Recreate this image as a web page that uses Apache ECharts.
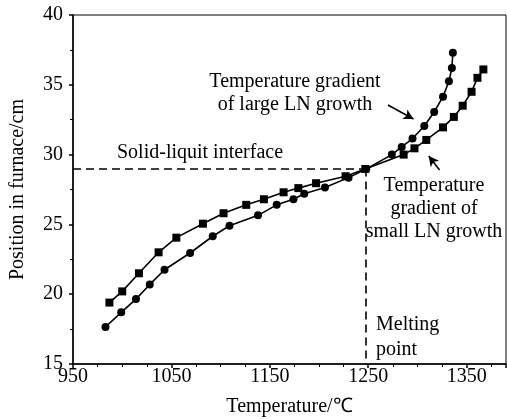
<!DOCTYPE html>
<html>
<head>
<meta charset="utf-8">
<script src="https://cdn.jsdelivr.net/npm/echarts@6/dist/echarts.min.js"></script>
<style>
  html, body { margin: 0; padding: 0; background: #fff; }
  #chart { width: 507px; height: 419px; }
</style>
</head>
<body>
<div id="chart"></div>
<script>
// temperature (°C) / position (cm)
var smallTemp = [987, 1000, 1017, 1037, 1055, 1082, 1103, 1126, 1144, 1164, 1179, 1197, 1227, 1247,
  1286, 1297, 1309, 1326, 1337, 1346, 1355, 1361, 1367];
var smallPos = [19.4, 20.2, 21.5, 23.0, 24.05, 25.05, 25.8, 26.4, 26.8, 27.3, 27.6, 27.95, 28.45, 28.97,
  30.0, 30.45, 31.05, 31.95, 32.7, 33.5, 34.5, 35.5, 36.1];

var largeTemp = [983, 999, 1014, 1028, 1043, 1069, 1092, 1109, 1138, 1157, 1174, 1185, 1206, 1230, 1248,
  1274, 1284, 1295, 1307, 1317, 1326, 1332, 1335, 1336];
var largePos = [17.65, 18.7, 19.65, 20.7, 21.75, 22.95, 24.15, 24.9, 25.65, 26.4, 26.8, 27.2, 27.65, 28.35, 28.97,
  30.0, 30.55, 31.15, 32.05, 33.05, 34.15, 35.25, 36.2, 37.3];

var xTicks = [950, 1050, 1150, 1250, 1350];
var yTicks = [15, 20, 25, 30, 35, 40];

var interfacePos = 29;
var meltingTemp = 1247;

// arrows [from, to] in data units
var arrowLarge = [[1270, 33.55], [1296, 32.55]];
var arrowSmall = [[1322.5, 28.9], [1311.5, 29.9]];

function pairs(xs, ys) {
  return xs.map(function (x, i) { return [x, ys[i]]; });
}

var font = 'Liberation Serif';
var txtFont = '20px "Liberation Serif"';
var chart = echarts.init(document.getElementById('chart'));

var option = {
  animation: false,
  grid: {
    left: 73, right: 1, top: 15, bottom: 55,
    outerBoundsMode: 'none',
    show: true, borderColor: '#000', borderWidth: 1
  },
  xAxis: {
    type: 'value',
    min: xTicks[0],
    max: 1390,
    interval: 100,
    name: 'Temperature/℃',
    nameLocation: 'middle',
    nameGap: 33,
    nameTextStyle: { fontFamily: font, fontSize: 20, color: '#000' },
    axisLine: { lineStyle: { color: '#000', width: 1.5 } },
    axisTick: { length: 4, lineStyle: { color: '#000', width: 1.5 } },
    minorTick: { show: true, splitNumber: 4, length: 3, lineStyle: { color: '#000' } },
    splitLine: { show: false },
    axisLabel: {
      fontFamily: font, fontSize: 20, color: '#000', margin: 3,
      showMaxLabel: false,
      formatter: function (v) { return xTicks.indexOf(v) >= 0 ? String(v) : ''; }
    }
  },
  yAxis: {
    type: 'value',
    min: yTicks[0],
    max: yTicks[yTicks.length - 1],
    interval: 5,
    name: 'Position in furnace/cm',
    nameLocation: 'middle',
    nameGap: 45,
    nameTextStyle: { fontFamily: font, fontSize: 20, color: '#000' },
    axisLine: { lineStyle: { color: '#000', width: 1.5 } },
    axisTick: { length: 4, lineStyle: { color: '#000', width: 1.5 } },
    minorTick: { show: true, splitNumber: 2, length: 3, lineStyle: { color: '#000' } },
    splitLine: { show: false },
    axisLabel: { fontFamily: font, fontSize: 20, color: '#000', margin: 10 }
  },
  series: [
    {
      name: 'small LN growth',
      type: 'line',
      data: pairs(smallTemp, smallPos),
      symbol: 'rect',
      symbolSize: 8,
      itemStyle: { color: '#000' },
      lineStyle: { color: '#000', width: 1.6 },
      markLine: {
        silent: true,
        symbol: ['none', 'none'],
        label: { show: false },
        lineStyle: { color: '#000', type: [8, 5], width: 1.6 },
        data: [
          [{ coord: [xTicks[0], interfacePos] }, { coord: [meltingTemp, interfacePos] }],
          [{ coord: [meltingTemp, interfacePos] }, { coord: [meltingTemp, yTicks[0]] }]
        ]
      }
    },
    {
      name: 'large LN growth',
      type: 'line',
      data: pairs(largeTemp, largePos),
      symbol: 'circle',
      symbolSize: 8,
      itemStyle: { color: '#000' },
      lineStyle: { color: '#000', width: 1.6 },
      markLine: {
        silent: true,
        symbol: ['none', 'arrow'],
        symbolSize: [8, 10],
        label: { show: false },
        lineStyle: { color: '#000', type: 'solid', width: 1.6 },
        data: [
          [{ coord: arrowLarge[0] }, { coord: arrowLarge[1] }],
          [{ coord: arrowSmall[0] }, { coord: arrowSmall[1] }]
        ]
      }
    }
  ],
  graphic: [
    {
      type: 'text', x: 295, y: 70,
      style: {
        text: 'Temperature gradient\nof large LN growth',
        font: txtFont, fill: '#000',
        align: 'center', verticalAlign: 'top', lineHeight: 23
      }
    },
    {
      type: 'text', x: 117, y: 143,
      style: { text: 'Solid-liquit interface', font: txtFont, fill: '#000', verticalAlign: 'top' }
    },
    {
      type: 'text', x: 434, y: 174,
      style: {
        text: 'Temperature\ngradient of\nsmall LN growth',
        font: txtFont, fill: '#000',
        align: 'center', verticalAlign: 'top', lineHeight: 23
      }
    },
    {
      type: 'text', x: 376, y: 312,
      style: {
        text: 'Melting\npoint',
        font: txtFont, fill: '#000', verticalAlign: 'top', lineHeight: 25
      }
    }
  ]
};

chart.setOption(option);
</script>
</body>
</html>
